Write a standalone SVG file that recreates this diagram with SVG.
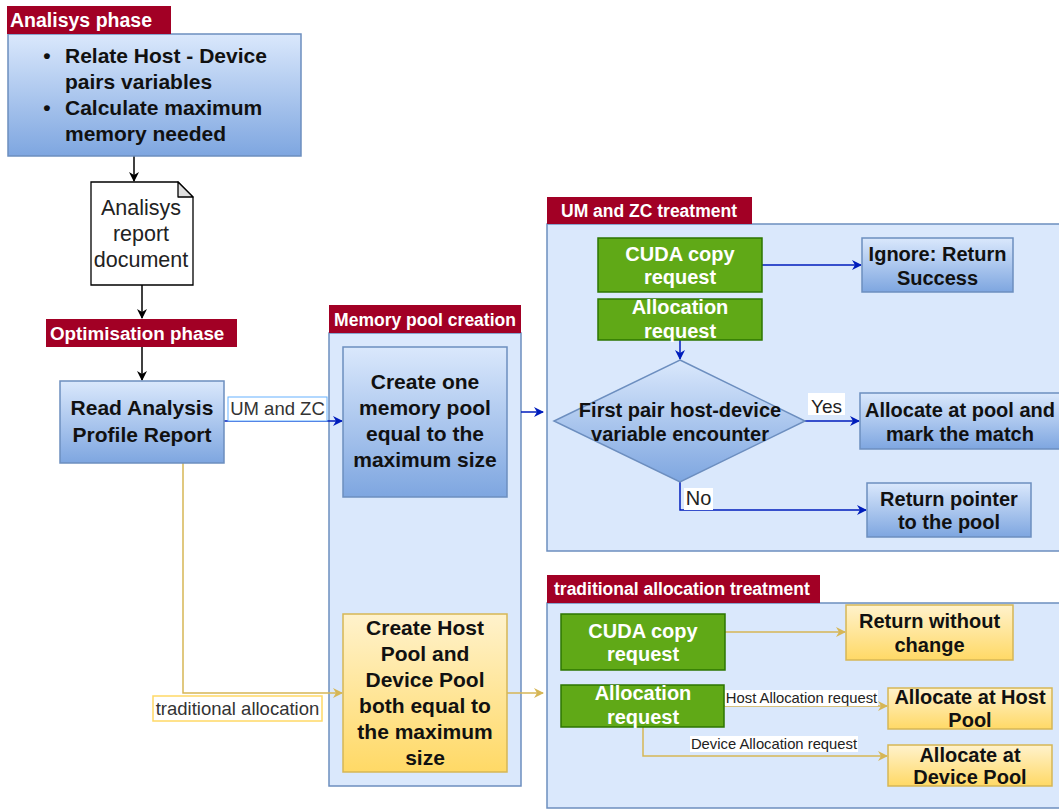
<svg xmlns="http://www.w3.org/2000/svg" width="1059" height="810" viewBox="0 0 1059 810">
<defs>
<linearGradient id="gBlue" x1="0" y1="0" x2="0" y2="1"><stop offset="0" stop-color="#dae8fc"/><stop offset="1" stop-color="#7ea6e0"/></linearGradient>
<linearGradient id="gYel" x1="0" y1="0" x2="0" y2="1"><stop offset="0" stop-color="#fff2cc"/><stop offset="1" stop-color="#ffd966"/></linearGradient>
<marker id="aBlk" viewBox="0 0 10 10" refX="9" refY="5" markerWidth="10" markerHeight="10" markerUnits="userSpaceOnUse" orient="auto"><path d="M0,0 L10,5 L0,10 L3,5 Z" fill="#000"/></marker>
<marker id="aBlu" viewBox="0 0 10 10" refX="9" refY="5" markerWidth="10" markerHeight="10" markerUnits="userSpaceOnUse" orient="auto"><path d="M0,0 L10,5 L0,10 L3,5 Z" fill="#001dbc"/></marker>
<marker id="aYel" viewBox="0 0 10 10" refX="9" refY="5" markerWidth="10" markerHeight="10" markerUnits="userSpaceOnUse" orient="auto"><path d="M0,0 L10,5 L0,10 L3,5 Z" fill="#d6b656"/></marker>
</defs>
<style>
text{font-family:"Liberation Sans",Arial,sans-serif;}
.b{font-weight:bold;}
.c{text-anchor:middle;}
.lbl{fill:#a20025;}
.lt{fill:#fff;font-weight:bold;}
.cont{fill:#dae8fc;stroke:#6c8ebf;stroke-width:1.5;}
.nb{fill:url(#gBlue);stroke:#6c8ebf;stroke-width:1.5;}
.ny{fill:url(#gYel);stroke:#d6b656;stroke-width:1.5;}
.ng{fill:#60a917;stroke:#2d7600;stroke-width:1.5;}
.tw{fill:#fff;font-weight:bold;font-size:20px;}
.tk{fill:#111;font-weight:bold;font-size:20px;}
.tk21{fill:#111;font-weight:bold;font-size:21px;}
.eBlk{fill:none;stroke:#000;stroke-width:1.5;marker-end:url(#aBlk);}
.eBlu{fill:none;stroke:#001dbc;stroke-width:1.5;marker-end:url(#aBlu);}
.eYel{fill:none;stroke:#d6b656;stroke-width:1.5;marker-end:url(#aYel);}
</style>
<rect width="1059" height="810" fill="#fff"/>

<!-- containers -->
<g id="memory-pool-creation">
<rect class="cont" x="329" y="333" width="192" height="453"/>
<rect class="lbl" x="329" y="305" width="192" height="28"/>
<text class="lt c" x="425" y="326" font-size="17.5">Memory pool creation</text>
</g>
<g id="um-zc-treatment">
<rect class="cont" x="547" y="224" width="516" height="327"/>
<rect class="lbl" x="547" y="197" width="205" height="27"/>
<text class="lt" x="561" y="217" font-size="17.5">UM and ZC treatment</text>
</g>
<g id="traditional-treatment">
<rect class="cont" x="547" y="603" width="516" height="205"/>
<rect class="lbl" x="547" y="575" width="273" height="28"/>
<text class="lt" x="554" y="595" font-size="17.5">traditional allocation treatment</text>
</g>

<!-- connectors -->
<g id="connectors">
<path class="eBlk" d="M134,156 L134,181"/>
<path class="eBlk" d="M142,285 L142,318"/>
<path class="eBlk" d="M142,347 L142,380"/>
<path class="eBlu" d="M224,421 L342,421"/>
<path class="eYel" d="M183,463 L183,693 L342,693"/>
<path class="eBlu" d="M521,412 L543,412"/>
<path class="eYel" d="M507,693 L543,693"/>
<path class="eBlu" d="M762,265 L861,265"/>
<path class="eBlu" d="M680,340 L680,359"/>
<path class="eBlu" d="M805,421 L859,421"/>
<path class="eBlu" d="M680,482 L680,510 L866,510"/>
<path class="eYel" d="M725,632 L845,632"/>
<path class="eYel" d="M724,706 L887,706"/>
<path class="eYel" d="M643,727 L643,756 L887,756"/>
<g id="edge-labels">
<rect x="228" y="397" width="99" height="24" fill="#fff" stroke="#66b2ff" stroke-width="1"/>
<text x="277.5" y="415" class="c" font-size="18.5" fill="#333">UM and ZC</text>
<rect x="153" y="696" width="169" height="25" fill="#fff" stroke="#ffd966" stroke-width="1.5"/>
<text x="237.5" y="715" class="c" font-size="18.5" fill="#333">traditional allocation</text>
<rect x="808" y="393" width="37" height="22" fill="#fff"/>
<text x="826.5" y="413" class="c" font-size="19" fill="#222">Yes</text>
<rect x="684" y="488" width="29" height="22" fill="#fff"/>
<text x="698.5" y="505" class="c" font-size="20" fill="#222">No</text>
<rect x="725" y="690" width="153" height="16" fill="#fff"/>
<text x="801.5" y="703" class="c" font-size="14.8" fill="#222">Host Allocation request</text>
<rect x="690" y="736" width="168" height="16" fill="#fff"/>
<text x="774" y="749" class="c" font-size="14.8" fill="#222">Device Allocation request</text>
</g>
</g>

<!-- nodes -->
<g id="analisys-phase">
<rect class="nb" x="8" y="34" width="293" height="122"/>
<rect class="lbl" x="7" y="6" width="164" height="28"/>
<text class="lt" x="10" y="27" font-size="19.5">Analisys phase</text>
<text class="tk21" x="47" y="63" text-anchor="middle">•</text>
<text class="tk21" x="65" y="63">Relate Host - Device</text>
<text class="tk21" x="65" y="89">pairs variables</text>
<text class="tk21" x="47" y="115" text-anchor="middle">•</text>
<text class="tk21" x="65" y="115">Calculate maximum</text>
<text class="tk21" x="65" y="141">memory needed</text>
</g>

<g id="analisys-report">
<path d="M91,182 L178,182 L193,197 L193,285 L91,285 Z" fill="#fff" stroke="#000" stroke-width="1.3"/>
<path d="M178,182 L178,197 L193,197 Z" fill="#e0e0e0" stroke="#000" stroke-width="1.3" stroke-linejoin="round"/>
<text class="c" x="141" y="215" font-size="21.5" fill="#222">Analisys</text>
<text class="c" x="141" y="241" font-size="21.5" fill="#222">report</text>
<text class="c" x="141" y="267" font-size="21.5" fill="#222">document</text>
</g>

<g id="optimisation-phase">
<rect class="lbl" x="46" y="319" width="191" height="28"/>
<text class="lt" x="50" y="340" font-size="18.8">Optimisation phase</text>
</g>

<g id="read-analysis">
<rect class="nb" x="60" y="381" width="164" height="82"/>
<text class="tk21 c" x="142" y="415">Read Analysis</text>
<text class="tk21 c" x="142" y="442">Profile Report</text>
</g>

<g id="create-one-pool">
<rect class="nb" x="343" y="347" width="164" height="150"/>
<text class="tk21 c" x="425" y="389">Create one</text>
<text class="tk21 c" x="425" y="415">memory pool</text>
<text class="tk21 c" x="425" y="441">equal to the</text>
<text class="tk21 c" x="425" y="467">maximum size</text>
</g>

<g id="create-host-device-pool">
<rect class="ny" x="343" y="614" width="164" height="158"/>
<text class="tk21 c" x="425" y="635">Create Host</text>
<text class="tk21 c" x="425" y="661">Pool and</text>
<text class="tk21 c" x="425" y="687">Device Pool</text>
<text class="tk21 c" x="425" y="713">both equal to</text>
<text class="tk21 c" x="425" y="739">the maximum</text>
<text class="tk21 c" x="425" y="765">size</text>
</g>

<g id="um-cuda-copy">
<rect class="ng" x="598" y="238" width="164" height="54"/>
<text class="tw c" x="680" y="261">CUDA copy</text>
<text class="tw c" x="680" y="284">request</text>
</g>
<g id="um-allocation">
<rect class="ng" x="598" y="299" width="164" height="41"/>
<text class="tw c" x="680" y="314">Allocation</text>
<text class="tw c" x="680" y="338">request</text>
</g>
<g id="ignore-return">
<rect class="nb" x="862" y="238" width="151" height="54"/>
<text class="tk c" x="937.5" y="261">Ignore: Return</text>
<text class="tk c" x="937.5" y="285">Success</text>
</g>
<g id="first-pair">
<path class="nb" d="M680,360 L805,421 L680,482 L554,421 Z"/>
<text class="tk c" x="680" y="417">First pair host-device</text>
<text class="tk c" x="680" y="441">variable encounter</text>
</g>
<g id="allocate-pool">
<rect class="nb" x="860" y="393" width="205" height="56"/>
<text class="tk c" x="960" y="417">Allocate at pool and</text>
<text class="tk c" x="960" y="441">mark the match</text>
</g>
<g id="return-pointer">
<rect class="nb" x="867" y="483" width="164" height="54"/>
<text class="tk c" x="949" y="506">Return pointer</text>
<text class="tk c" x="949" y="529">to the pool</text>
</g>

<g id="trad-cuda-copy">
<rect class="ng" x="561" y="614" width="164" height="56"/>
<text class="tw c" x="643" y="638">CUDA copy</text>
<text class="tw c" x="643" y="661">request</text>
</g>
<g id="trad-allocation">
<rect class="ng" x="561" y="685" width="163" height="42"/>
<text class="tw c" x="643" y="700">Allocation</text>
<text class="tw c" x="643" y="724">request</text>
</g>
<g id="return-without-change">
<rect class="ny" x="846" y="605" width="167" height="55"/>
<text class="tk c" x="929.5" y="628">Return without</text>
<text class="tk c" x="929.5" y="652">change</text>
</g>
<g id="allocate-host">
<rect class="ny" x="888" y="688" width="164" height="41"/>
<text class="tk c" x="970" y="704">Allocate at Host</text>
<text class="tk c" x="970" y="727">Pool</text>
</g>
<g id="allocate-device">
<rect class="ny" x="888" y="745" width="164" height="41"/>
<text class="tk c" x="970" y="762">Allocate at</text>
<text class="tk c" x="970" y="784">Device Pool</text>
</g>
</svg>
